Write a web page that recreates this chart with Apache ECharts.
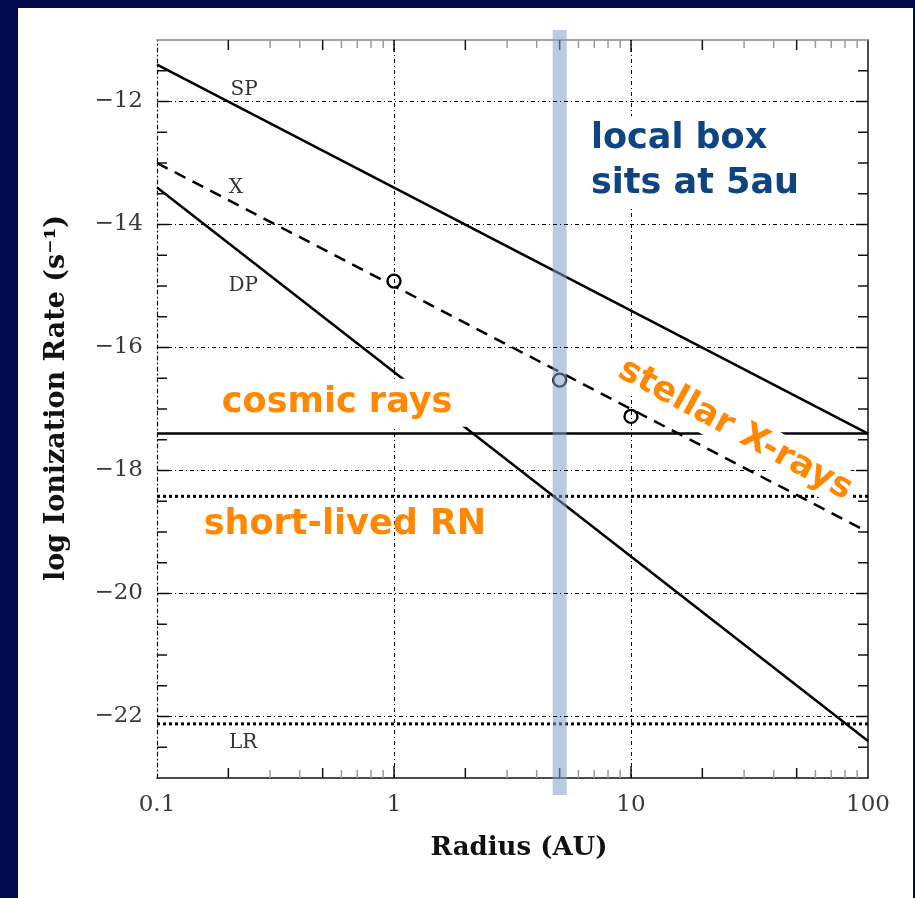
<!DOCTYPE html>
<html>
<head>
<meta charset="utf-8">
<script src="https://cdn.jsdelivr.net/npm/echarts@6/dist/echarts.min.js"></script>
<style>
  html, body { margin: 0; padding: 0; background: #01094f; }
  #panel { position: absolute; left: 18px; top: 8px; width: 895px; height: 890px; background: #ffffff; }
  #chart { position: absolute; left: 0; top: 0; width: 915px; height: 898px; }
</style>
</head>
<body>
<div id="panel"></div>
<div id="chart"></div>
<script>
// ---- data ----
const radiusEnds   = [0.1, 100];              // AU, line end points
const spRate       = [-11.4, -17.4];          // SP
const xrayRate     = [-13.0, -19.0];          // X (dashed)
const dpRate       = [-13.4, -22.4];          // DP
const cosmicRate   = [-17.4, -17.4];          // cosmic rays
const rnRate       = [-18.42, -18.42];        // short-lived RN
const lrRate       = [-22.12, -22.12];        // LR
const pointRadius  = [1, 5, 10];
const pointRate    = [-14.92, -16.53, -17.12];
const localBoxAU   = 5;

const xMin = 0.1, xMax = 100, yMin = -23, yMax = -11;
const xGridValues  = [1, 10];
const yGridValues  = [-12, -14, -16, -18, -20, -22];
const xMajorTicks  = [1, 10];
const xMidTicks    = [0.2, 0.5, 2, 5, 20, 50];
const xMinorTicks  = [0.3, 0.4, 0.6, 0.7, 0.8, 0.9, 3, 4, 6, 7, 8, 9, 30, 40, 60, 70, 80, 90];
const yTickValues  = [-22.5, -22, -21.5, -21, -20.5, -20, -19.5, -19, -18.5, -18, -17.5, -17, -16.5, -16,
                      -15.5, -15, -14.5, -14, -13.5, -13, -12.5, -12, -11.5];

// annotation positions (data coordinates)
const lineLabels = [
  { name: 'SP', value: [0.233, -11.81] },
  { name: 'X',  value: [0.215, -13.41] },
  { name: 'DP', value: [0.231, -14.99] },
  { name: 'LR', value: [0.231, -22.42] }
];

function pairs(xs, ys) { return xs.map((x, i) => [x, ys[i]]); }

const tickData = [];
xMajorTicks.forEach(v => tickData.push([v, yMin, 0, 2]));
xMidTicks.forEach(v => tickData.push([v, yMin, 0, 1]));
xMinorTicks.forEach(v => tickData.push([v, yMin, 0, 0]));
yTickValues.forEach(v => tickData.push([xMin, v, 1, (v % 2 === 0) ? 2 : 1]));

const chart = echarts.init(document.getElementById('chart'), null, { renderer: 'canvas' });

const serifLabel = { fontFamily: 'DejaVu Serif', fontSize: 23, color: '#3a3a3a' };
const gridDash = [4, 3, 1, 3];
const orange = '#ff8800';
const lineW = 2.5;

chart.setOption({
  animation: false,
  backgroundColor: 'transparent',
  grid: { left: 157, right: 47, top: 40, bottom: 120, containLabel: false },
  xAxis: [
    {
      type: 'log', logBase: 10, min: xMin, max: xMax, position: 'bottom',
      axisLine: { show: true, lineStyle: { color: '#111', width: 1.5 } },
      axisTick: { show: false }, splitLine: { show: false }, minorTick: { show: false },
      axisLabel: Object.assign({ margin: 16, formatter: v => String(+(+v).toPrecision(3)) }, serifLabel)
    },
    {
      type: 'log', logBase: 10, min: xMin, max: xMax, position: 'top',
      axisLine: { show: true, lineStyle: { color: '#888', width: 1.5 } },
      axisTick: { show: false }, splitLine: { show: false }, axisLabel: { show: false }
    }
  ],
  yAxis: [
    {
      type: 'value', min: yMin, max: yMax, interval: 1, position: 'left',
      axisLine: { show: true, onZero: false, lineStyle: { color: '#111', width: 1.2, type: gridDash } },
      axisTick: { show: false }, splitLine: { show: false },
      axisLabel: Object.assign({ margin: 14, formatter: v => (v % 2 === 0 ? '\u2212' + Math.abs(v) : '') }, serifLabel)
    },
    {
      type: 'value', min: yMin, max: yMax, interval: 1, position: 'right',
      axisLine: { show: true, onZero: false, lineStyle: { color: '#111', width: 1.5 } },
      axisTick: { show: false }, splitLine: { show: false }, axisLabel: { show: false }
    }
  ],
  graphic: [
    {
      type: 'text', x: 57, y: 398, rotation: Math.PI / 2,
      style: { text: 'log Ionization Rate (s\u207B\u00B9)', fontFamily: 'DejaVu Serif', fontWeight: 'bold',
               fontSize: 27, fill: '#111', align: 'center', verticalAlign: 'middle' }
    },
    {
      type: 'text', x: 519, y: 848,
      style: { text: 'Radius (AU)', fontFamily: 'DejaVu Serif', fontWeight: 'bold',
               fontSize: 26, fill: '#111', align: 'center', verticalAlign: 'middle' }
    }
  ],
  series: [
    {
      name: 'grid', type: 'line', data: [], z: 1, silent: true,
      markLine: {
        silent: true, symbol: ['none', 'none'], label: { show: false },
        lineStyle: { color: '#000', width: 1, type: gridDash, opacity: 1 },
        data: xGridValues.map(v => ({ xAxis: v })).concat(yGridValues.map(v => ({ yAxis: v })))
      }
    },
    {
      name: 'ticks', type: 'custom', z: 3, silent: true, data: tickData,
      renderItem: function (params, api) {
        const kind = api.value(2), level = api.value(3);
        const len = level === 2 ? 12 : (level === 1 ? 10 : 8);
        const col = level === 0 ? '#9a9a9a' : '#111';
        let a, b;
        if (kind === 0) {
          a = api.coord([api.value(0), yMin]); b = api.coord([api.value(0), yMax]);
          return { type: 'group', children: [
            { type: 'line', shape: { x1: a[0], y1: a[1], x2: a[0], y2: a[1] - len }, style: { stroke: col, lineWidth: 1.5 } },
            { type: 'line', shape: { x1: b[0], y1: b[1], x2: b[0], y2: b[1] + len }, style: { stroke: col, lineWidth: 1.5 } }
          ] };
        }
        a = api.coord([xMin, api.value(1)]); b = api.coord([xMax, api.value(1)]);
        return { type: 'group', children: [
          { type: 'line', shape: { x1: a[0], y1: a[1], x2: a[0] + len, y2: a[1] }, style: { stroke: col, lineWidth: 1.5 } },
          { type: 'line', shape: { x1: b[0], y1: b[1], x2: b[0] - len, y2: b[1] }, style: { stroke: col, lineWidth: 1.5 } }
        ] };
      }
    },
    { name: 'SP', type: 'line', z: 2, data: pairs(radiusEnds, spRate), symbol: 'none',
      lineStyle: { color: '#000', width: lineW } },
    { name: 'X', type: 'line', z: 2, data: pairs(radiusEnds, xrayRate), symbol: 'none',
      lineStyle: { color: '#000', width: lineW, type: [12, 8] } },
    { name: 'DP', type: 'line', z: 2, data: pairs(radiusEnds, dpRate), symbol: 'none',
      lineStyle: { color: '#000', width: lineW } },
    { name: 'cosmic', type: 'line', z: 2, data: pairs(radiusEnds, cosmicRate), symbol: 'none',
      lineStyle: { color: '#000', width: lineW } },
    { name: 'RN', type: 'line', z: 2, data: pairs(radiusEnds, rnRate), symbol: 'none',
      lineStyle: { color: '#000', width: 3, type: [3, 3] } },
    { name: 'LR', type: 'line', z: 2, data: pairs(radiusEnds, lrRate), symbol: 'none',
      lineStyle: { color: '#000', width: 3, type: [3, 3] } },
    { name: 'points', type: 'scatter', z: 3, data: pairs(pointRadius, pointRate),
      symbol: 'circle', symbolSize: 13,
      itemStyle: { color: '#ffffff', borderColor: '#000', borderWidth: 2.4, opacity: 1 } },
    {
      name: 'band', type: 'custom', z: 4, silent: true, clip: false, data: [[localBoxAU]],
      renderItem: function (params, api) {
        const t = api.coord([api.value(0), yMax]);
        const b = api.coord([api.value(0), yMin]);
        return { type: 'rect', shape: { x: t[0] - 7, y: t[1] - 10, width: 14, height: b[1] - t[1] + 27 },
                 style: { fill: 'rgba(124,162,202,0.55)' } };
      }
    },
    {
      name: 'lineLabels', type: 'scatter', z: 5, symbolSize: 0, silent: true, data: lineLabels,
      itemStyle: { opacity: 1 },
      label: { show: true, position: 'inside', formatter: p => p.name, opacity: 1,
               fontFamily: 'DejaVu Serif', fontSize: 20, color: '#333' }
    },
    {
      name: 'annotations', type: 'scatter', z: 6, symbolSize: 0, silent: true,
      itemStyle: { opacity: 1 },
      data: [
        { name: 'cosmic rays', value: [0.598, -16.90],
          label: { padding: [0, 14, 13, 6] } },
        { name: 'short-lived RN', value: [0.621, -18.88],
          label: { backgroundColor: 'transparent' } },
        { name: 'stellar X-rays', value: [27.5, -17.34],
          label: { rotate: -28.5, padding: [2, 4, 2, 4] } },
        { name: 'local box\nsits at 5au', value: [6.52, -12.97],
          label: { position: [0, 0], align: 'left', verticalAlign: 'middle', color: '#0d4481',
                   lineHeight: 45, padding: [0, 4, 0, 4] } }
      ],
      label: { show: true, position: 'inside', formatter: p => p.name, opacity: 1,
               fontFamily: 'DejaVu Sans', fontWeight: 'bold', fontSize: 35, color: orange,
               backgroundColor: '#ffffff' }
    }
  ]
});
</script>
</body>
</html>
